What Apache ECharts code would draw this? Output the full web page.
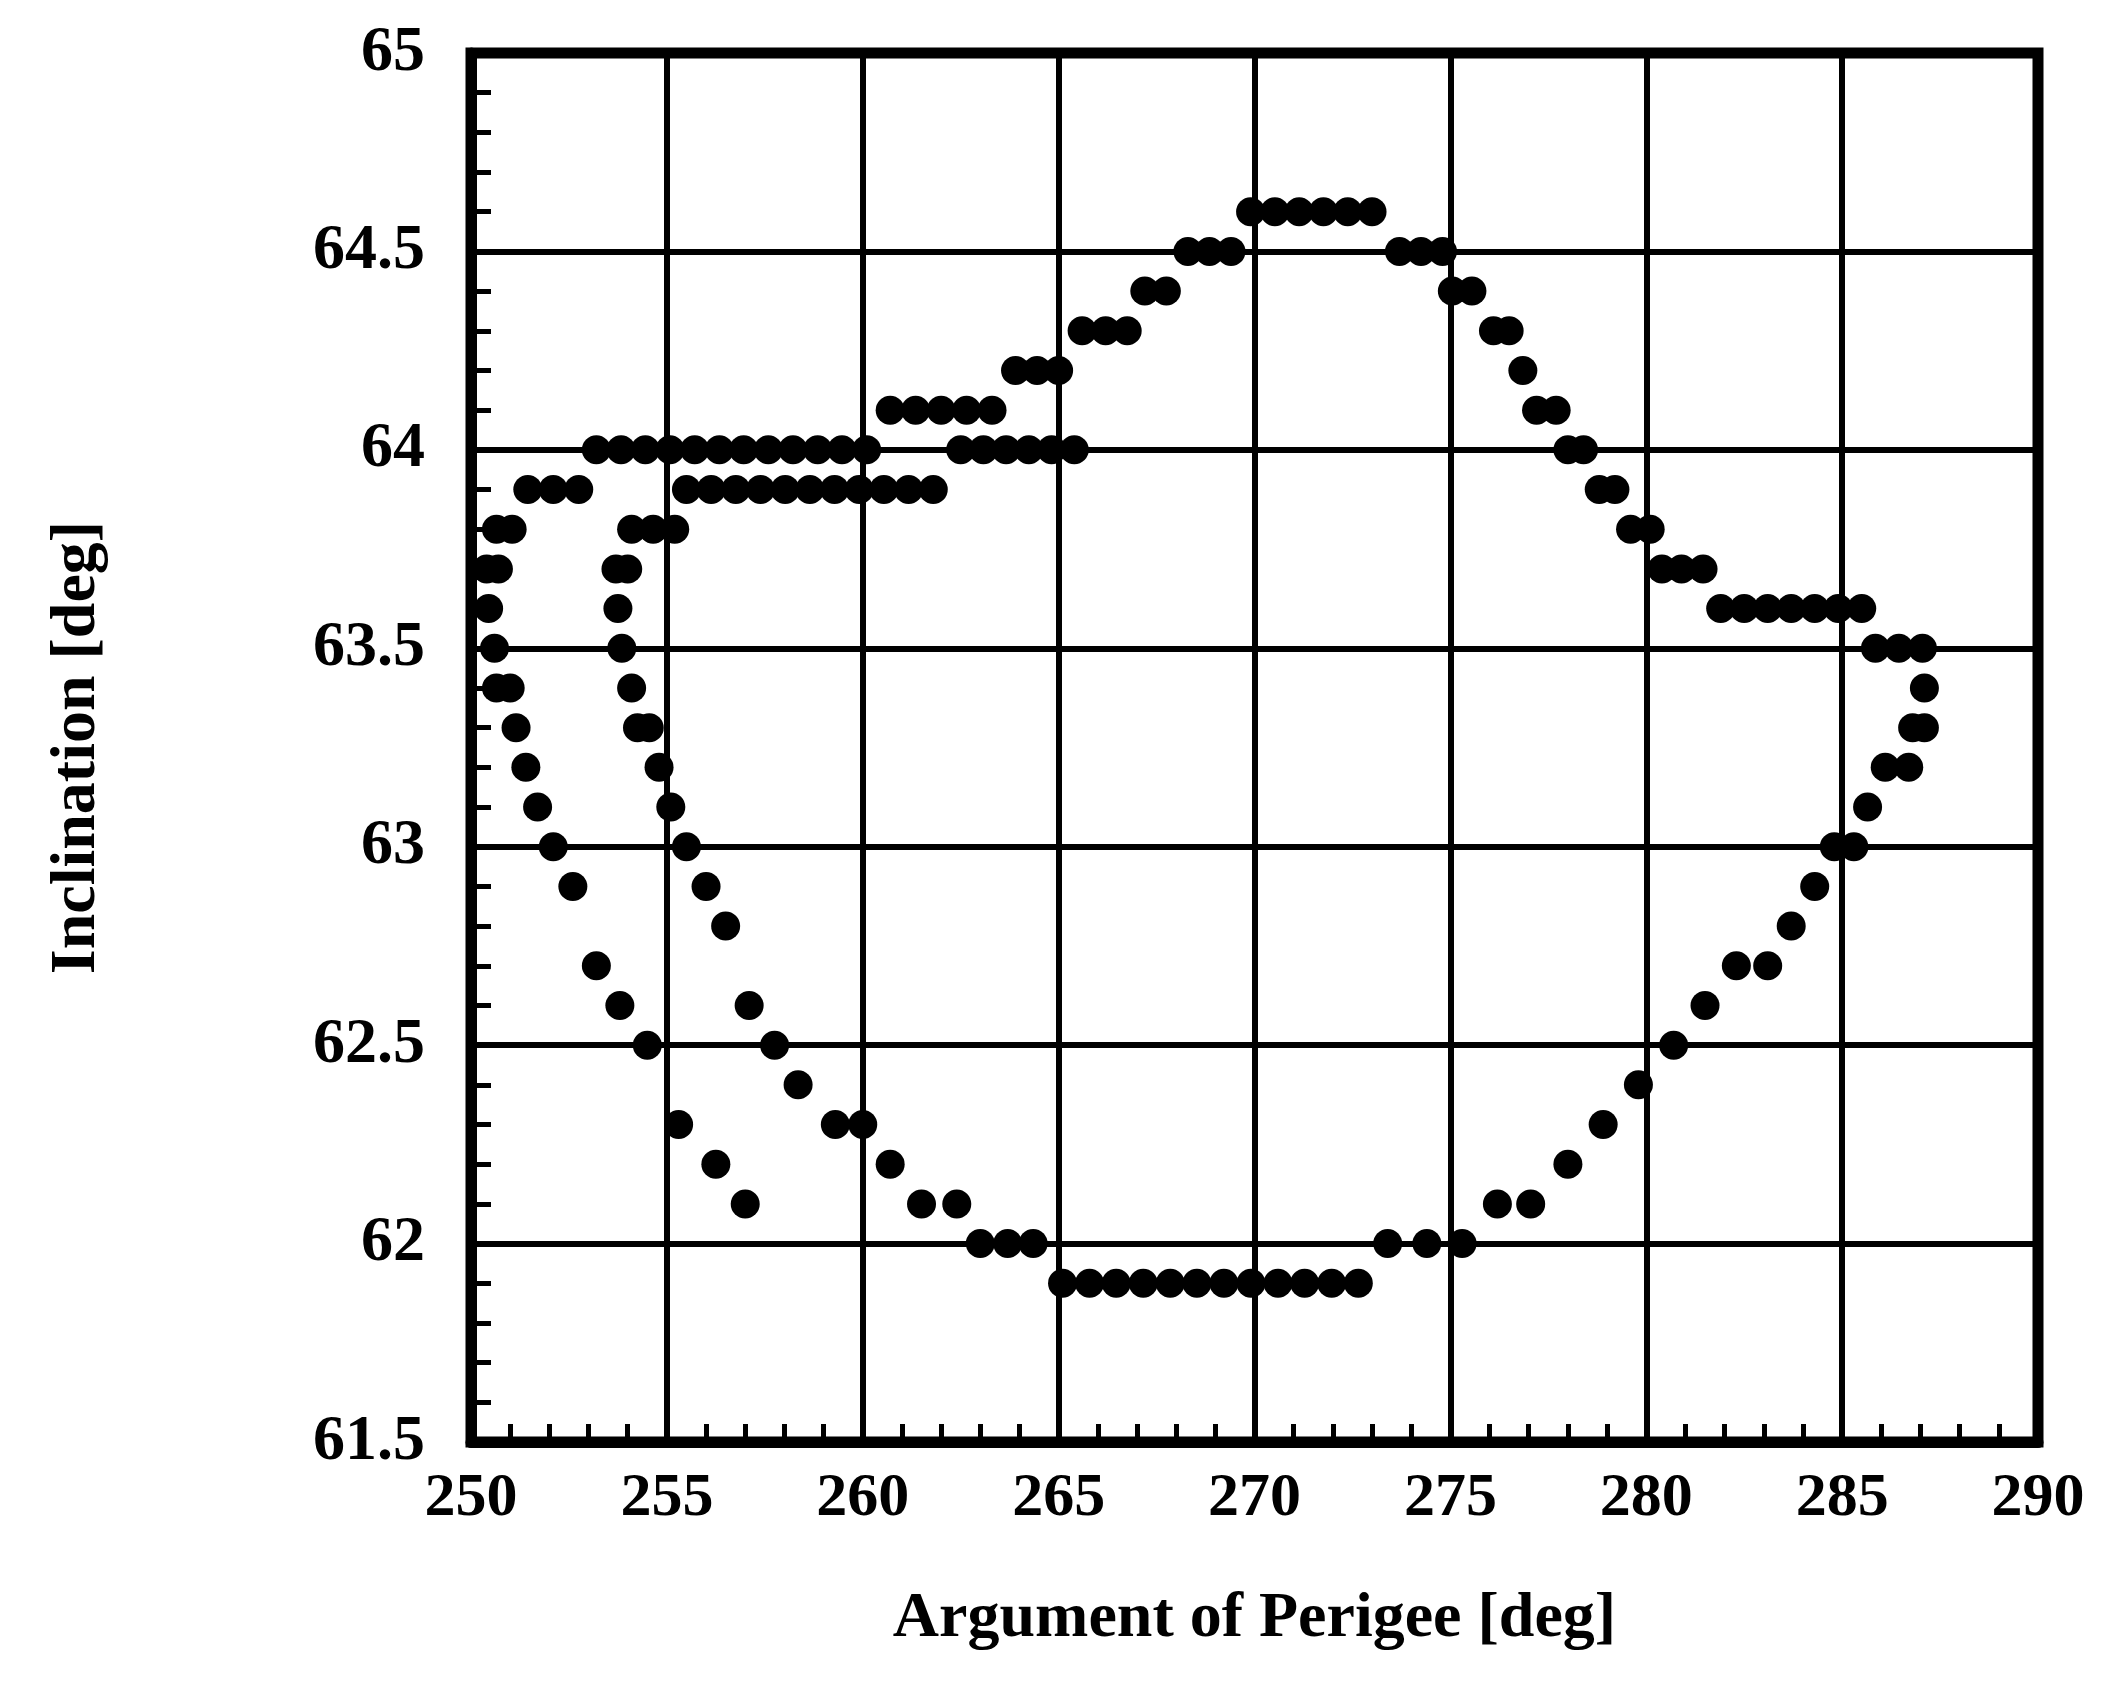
<!DOCTYPE html>
<html>
<head>
<meta charset="utf-8">
<script src="https://cdn.jsdelivr.net/npm/echarts@6/dist/echarts.min.js"></script>
<style>
  html, body { margin: 0; padding: 0; background: #ffffff; }
  #chart { width: 2128px; height: 1692px; }
</style>
</head>
<body>
<div id="chart"></div>
<script>
// ---- Data ----
// First pass: outer left side, across the top, down the right side, along the bottom
const pass1Perigee = [
  257.0, 256.25, 255.3, 254.5, 253.8, 253.2, 252.6, 252.1, 251.7, 251.4, 251.15,
  251.0, 250.65, 250.6, 250.45, 250.4, 250.7, 250.65, 251.05,
  251.45, 252.1, 252.75,
  253.2, 253.83, 254.45, 255.08, 255.71, 256.34, 256.96, 257.59, 258.22, 258.85, 259.47, 260.1,
  260.7, 261.35, 262.0, 262.65, 263.3,
  263.9, 264.45, 265.0,
  265.6, 266.2, 266.75,
  267.2, 267.75,
  268.3, 268.85, 269.4,
  269.9, 270.52, 271.14, 271.76, 272.38, 273.0,
  273.7, 274.25, 274.8,
  275.05, 275.55,
  276.1, 276.5,
  276.85,
  277.2, 277.7,
  278.0, 278.4,
  278.8, 279.2,
  279.6, 280.1,
  280.4, 280.9, 281.45,
  281.9, 282.5, 283.1, 283.7, 284.3, 284.9, 285.5,
  285.85, 286.45, 287.05,
  287.1,
  286.8, 287.1,
  286.1, 286.7,
  285.65,
  284.8, 285.3,
  284.3,
  283.7,
  282.3, 283.1,
  281.5,
  280.7,
  279.8,
  278.9,
  278.0,
  276.2, 277.05,
  273.4, 274.4, 275.3,
  265.1, 265.79, 266.47, 267.16, 267.85, 268.53, 269.22, 269.91, 270.6, 271.28, 271.97, 272.65
];
const pass1Inclination = [
  62.1, 62.2, 62.3, 62.5, 62.6, 62.7, 62.9, 63.0, 63.1, 63.2, 63.3,
  63.4, 63.4, 63.5, 63.6, 63.7, 63.7, 63.8, 63.8,
  63.9, 63.9, 63.9,
  64.0, 64.0, 64.0, 64.0, 64.0, 64.0, 64.0, 64.0, 64.0, 64.0, 64.0, 64.0,
  64.1, 64.1, 64.1, 64.1, 64.1,
  64.2, 64.2, 64.2,
  64.3, 64.3, 64.3,
  64.4, 64.4,
  64.5, 64.5, 64.5,
  64.6, 64.6, 64.6, 64.6, 64.6, 64.6,
  64.5, 64.5, 64.5,
  64.4, 64.4,
  64.3, 64.3,
  64.2,
  64.1, 64.1,
  64.0, 64.0,
  63.9, 63.9,
  63.8, 63.8,
  63.7, 63.7, 63.7,
  63.6, 63.6, 63.6, 63.6, 63.6, 63.6, 63.6,
  63.5, 63.5, 63.5,
  63.4,
  63.3, 63.3,
  63.2, 63.2,
  63.1,
  63.0, 63.0,
  62.9,
  62.8,
  62.7, 62.7,
  62.6,
  62.5,
  62.4,
  62.3,
  62.2,
  62.1, 62.1,
  62.0, 62.0, 62.0,
  61.9, 61.9, 61.9, 61.9, 61.9, 61.9, 61.9, 61.9, 61.9, 61.9, 61.9, 61.9
];
// Second pass: inner left side rising back up to 64.0
const pass2Perigee = [
  264.35, 263.7, 263.0,
  262.4, 261.5,
  260.7,
  260.0, 259.3,
  258.35,
  257.75,
  257.1,
  256.5,
  256.0,
  255.5,
  255.1,
  254.8,
  254.55, 254.25,
  254.1,
  253.85,
  253.75,
  253.7, 254.0,
  254.1, 254.65, 255.2,
  255.5, 256.13, 256.76, 257.39, 258.02, 258.65, 259.28, 259.91, 260.54, 261.17, 261.8,
  262.5, 263.08, 263.66, 264.24, 264.82, 265.4
];
const pass2Inclination = [
  62.0, 62.0, 62.0,
  62.1, 62.1,
  62.2,
  62.3, 62.3,
  62.4,
  62.5,
  62.6,
  62.8,
  62.9,
  63.0,
  63.1,
  63.2,
  63.3, 63.3,
  63.4,
  63.5,
  63.6,
  63.7, 63.7,
  63.8, 63.8, 63.8,
  63.9, 63.9, 63.9, 63.9, 63.9, 63.9, 63.9, 63.9, 63.9, 63.9, 63.9,
  64.0, 64.0, 64.0, 64.0, 64.0, 64.0
];
const xTickValues = [250, 255, 260, 265, 270, 275, 280, 285, 290];
const yTickValues = [61.5, 62, 62.5, 63, 63.5, 64, 64.5, 65];

// ---- Chart ----
const zip = (xs, ys) => xs.map((x, i) => [x, ys[i]]);
const FONT = "'Liberation Serif', 'DejaVu Serif', serif";

const chart = echarts.init(document.getElementById('chart'), null, { renderer: 'canvas' });
chart.setOption({
  backgroundColor: '#ffffff',
  animation: false,
  grid: {
    left: 471, right: 90, top: 53, bottom: 250,
    show: true, borderColor: '#000', borderWidth: 11, backgroundColor: 'transparent'
  },
  xAxis: {
    type: 'value', min: xTickValues[0], max: xTickValues[xTickValues.length - 1], interval: 5,
    axisLine: { show: true, lineStyle: { color: '#000', width: 11 } },
    axisTick: { show: true, inside: true, length: 20, lineStyle: { color: '#000', width: 5 } },
    minorTick: { show: true, splitNumber: 5, length: 18, lineStyle: { color: '#000', width: 5 } },
    splitLine: { show: true, lineStyle: { color: '#000', width: 6 } },
    axisLabel: {
      color: '#000', fontFamily: FONT, fontWeight: 'bold', fontSize: 62, margin: 26,
      formatter: v => String(v)
    },
    name: 'Argument of Perigee [deg]', nameLocation: 'middle', nameGap: 145,
    nameTextStyle: { color: '#000', fontFamily: FONT, fontWeight: 'bold', fontSize: 64 }
  },
  yAxis: {
    type: 'value', min: yTickValues[0], max: yTickValues[yTickValues.length - 1], interval: 0.5,
    axisLine: { show: true, lineStyle: { color: '#000', width: 11 } },
    axisTick: { show: true, inside: true, length: 20, lineStyle: { color: '#000', width: 5 } },
    minorTick: { show: true, splitNumber: 5, length: 20, lineStyle: { color: '#000', width: 5 } },
    splitLine: { show: true, lineStyle: { color: '#000', width: 6 } },
    axisLabel: {
      color: '#000', fontFamily: FONT, fontWeight: 'bold', fontSize: 64, margin: 46,
      formatter: v => String(v)
    },
    name: 'Inclination [deg]', nameLocation: 'middle', nameGap: 362, nameRotate: 90,
    nameTextStyle: { color: '#000', fontFamily: FONT, fontWeight: 'bold', fontSize: 64 }
  },
  series: [
    {
      type: 'scatter', name: 'pass 1', data: zip(pass1Perigee, pass1Inclination),
      symbol: 'circle', symbolSize: 29, itemStyle: { color: '#000', opacity: 1 }, z: 5
    },
    {
      type: 'scatter', name: 'pass 2', data: zip(pass2Perigee, pass2Inclination),
      symbol: 'circle', symbolSize: 29, itemStyle: { color: '#000', opacity: 1 }, z: 5
    }
  ]
});
</script>
</body>
</html>
